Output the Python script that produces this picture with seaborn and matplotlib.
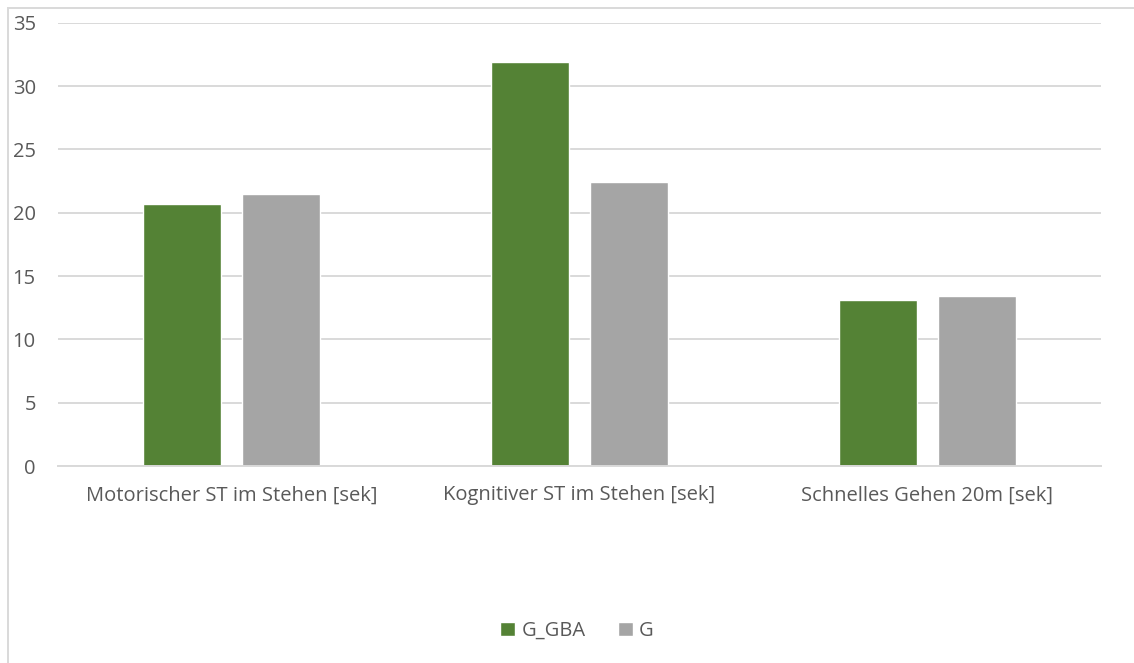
import matplotlib
matplotlib.use("Agg")
import matplotlib.pyplot as plt
import seaborn as sns
import pandas as pd
from matplotlib.patches import Rectangle

categories = ["Motorischer ST im Stehen [sek]",
              "Kognitiver ST im Stehen [sek]",
              "Schnelles Gehen 20m [sek]"]
series_names = ["G_GBA", "G"]
g_gba = [20.7, 31.9, 13.1]
g = [21.5, 22.4, 13.4]
y_ticks = [0, 5, 10, 15, 20, 25, 30, 35]

df = pd.DataFrame({
    "Kategorie": categories * 2,
    "Gruppe": [series_names[0]] * 3 + [series_names[1]] * 3,
    "Wert": g_gba + g,
})

sns.set_theme(style="white")
plt.rcParams["font.family"] = ["Open Sans", "DejaVu Sans"]
text_color = "#595959"
grid_color = "#D9D9D9"
palette = {"G_GBA": "#548235", "G": "#A5A5A5"}
fs = 14.5

fig = plt.figure(figsize=(11.34, 6.63), dpi=100)
ax = fig.add_axes([58 / 1134, 1 - 466 / 663, (1101 - 58) / 1134, (466 - 22.7) / 663])

sns.barplot(data=df, x="Kategorie", y="Wert", hue="Gruppe", palette=palette,
            width=0.57, gap=0.213, saturation=1, ax=ax, legend=True)

ax.set_xlim(-0.5, 2.5)
ax.set_ylim(0, 35)
ax.set_yticks(y_ticks)
ax.set_xlabel("")
ax.set_ylabel("")
ax.yaxis.grid(True, color=grid_color, linewidth=1.4)
ax.set_axisbelow(True)
for side in ["top", "right", "left"]:
    ax.spines[side].set_visible(False)
ax.spines["bottom"].set_color(grid_color)
ax.spines["bottom"].set_linewidth(1.4)
ax.tick_params(axis="y", length=0, pad=16, labelsize=fs, labelcolor=text_color)
ax.tick_params(axis="x", length=0, pad=14, labelsize=fs, labelcolor=text_color)

handles, labels = ax.get_legend_handles_labels()
ax.get_legend().remove()
fig.legend(handles, labels, loc="center", bbox_to_anchor=(577 / 1134, 1 - 631 / 663),
           ncol=2, frameon=False, fontsize=fs, labelcolor=text_color,
           handlelength=0.75, handleheight=0.75, handletextpad=0.3, columnspacing=1.6)

# light chart-area frame
fig.patches.append(Rectangle((8 / 1134, -0.05), 1.2, 1 - 8 / 663 + 0.05,
                             transform=fig.transFigure, fill=False,
                             edgecolor=grid_color, linewidth=1.4))

fig.savefig("out.png", dpi=100)
